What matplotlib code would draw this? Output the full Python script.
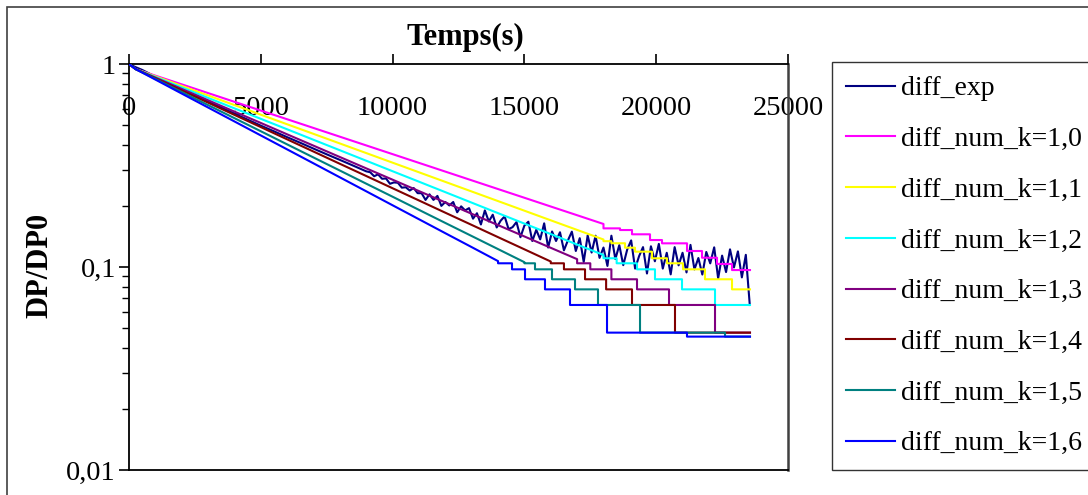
import numpy as np
import matplotlib
matplotlib.use('Agg')
import matplotlib.pyplot as plt
from matplotlib.patches import Rectangle
from matplotlib.ticker import LogLocator, NullFormatter

plt.rcParams['font.family'] = ['Liberation Serif', 'DejaVu Serif']

# grille de temps (s) de la partie lisse des courbes numeriques
t_smooth = [0, 250, 1000, 2000, 3000, 4000, 5000, 6000, 7000, 8000, 9000,
            10000, 11000, 12000, 13000, 14000, 15000, 16000, 17000, 18000]

# diff_exp : mesure (bruitee en fin d'essai)
t_exp = np.concatenate([[0, 250, 500], np.arange(1000, 9001, 500), np.arange(9150, 23551, 150)])
v_exp = [1.0, 0.965, 0.935, 0.866, 0.805, 0.748, 0.700, 0.655, 0.611, 0.570,
         0.532, 0.497, 0.466, 0.436, 0.409, 0.383, 0.359, 0.337, 0.316, 0.296,
         0.293, 0.280, 0.286, 0.272, 0.273, 0.257, 0.261, 0.260, 0.246, 0.247,
         0.238, 0.245, 0.231, 0.231, 0.214, 0.228, 0.214, 0.224, 0.200, 0.209,
         0.201, 0.209, 0.186, 0.199, 0.190, 0.195, 0.173, 0.184, 0.162, 0.190,
         0.1676, 0.1810, 0.1566, 0.1691, 0.1776, 0.1537, 0.1571, 0.1665, 0.1402, 0.1600,
         0.1671, 0.1343, 0.1524, 0.1368, 0.1641, 0.1247, 0.1496, 0.1343, 0.1483, 0.1208,
         0.1352, 0.1493, 0.1199, 0.1387, 0.1059, 0.1432, 0.1178, 0.1426, 0.1109, 0.1247,
         0.1012, 0.1426, 0.1094, 0.1282, 0.1021, 0.1219, 0.1352, 0.0982, 0.1130, 0.1253,
         0.0929, 0.1265, 0.1067, 0.1300, 0.0982, 0.1175, 0.0920, 0.1253, 0.1019, 0.1175,
         0.0940, 0.1285, 0.0973, 0.1107, 0.0918, 0.1186, 0.1042, 0.1250, 0.0879, 0.1138,
         0.0944, 0.1222, 0.0995, 0.1194, 0.0889, 0.1148, 0.0650]

# diff_num : partie lisse puis paliers (instants de changement, niveaux)
k10_smooth = [1.0, 0.944, 0.8764, 0.7939, 0.7191, 0.6513, 0.5899, 0.5344, 0.4840, 0.4384,
              0.3971, 0.3597, 0.3258, 0.2951, 0.2673, 0.2421, 0.2193, 0.1986, 0.1799, 0.1629]
k10_step_t = [18000, 18627, 19082, 19765, 20220, 21169, 21738, 22307, 22876, 23558]
k10_step_v = [0.155, 0.1521, 0.1449, 0.1358, 0.1308, 0.1199, 0.1111, 0.1035, 0.0966]

k11_smooth = [1.0, 0.944, 0.8700, 0.7802, 0.6998, 0.6276, 0.5629, 0.5047, 0.4527, 0.4060,
              0.3641, 0.3265, 0.2928, 0.2626, 0.2355, 0.2112, 0.1894, 0.1698, 0.1523, 0.1366]
k11_step_t = [18000, 18300, 18816, 19196, 19841, 20410, 21017, 21851, 22876, 23558]
k11_step_v = [0.1340, 0.1309, 0.1245, 0.1190, 0.1104, 0.1043, 0.0974, 0.0870, 0.0776]

k12_smooth = [1.0, 0.944, 0.8636, 0.7672, 0.6810, 0.6045, 0.5369, 0.4768, 0.4233, 0.3759,
              0.3338, 0.2963, 0.2632, 0.2337, 0.2075, 0.1842, 0.1636, 0.1453, 0.1290, 0.1146]
k12_step_t = [18000, 18500, 19272, 19954, 20979, 22231, 23558]
k12_step_v = [0.1104, 0.1043, 0.0974, 0.0870, 0.0776, 0.0650]

k13_smooth = [1.0, 0.944, 0.8572, 0.7539, 0.6629, 0.5826, 0.5124, 0.4503, 0.3960, 0.3481,
              0.3061, 0.2692, 0.2366, 0.2080, 0.1829, 0.1608, 0.1414, 0.1243, 0.1093]
k13_step_t = [17000, 17500, 18300, 19272, 20486, 22231, 23558]
k13_step_v = [0.1043, 0.0974, 0.0870, 0.0776, 0.0650, 0.0475]

k14_smooth = [1.0, 0.944, 0.8508, 0.7408, 0.6450, 0.5615, 0.4889, 0.4254, 0.3704, 0.3224,
              0.2807, 0.2443, 0.2127, 0.1851, 0.1612, 0.1403, 0.1222, 0.1064]
k14_step_t = [16000, 16500, 17300, 18100, 19082, 20713, 23558]
k14_step_v = [0.1043, 0.0974, 0.0870, 0.0776, 0.0650, 0.0475]

k15_smooth = [1.0, 0.944, 0.8445, 0.7281, 0.6275, 0.5410, 0.4664, 0.4018, 0.3463, 0.2986,
              0.2573, 0.2219, 0.1912, 0.1648, 0.1421, 0.1225, 0.1056]
k15_step_t = [15000, 15402, 16047, 16920, 17792, 19386, 22610, 23558]
k15_step_v = [0.1043, 0.0974, 0.0870, 0.0776, 0.0650, 0.0475, 0.0454]

k16_smooth = [1.0, 0.944, 0.8382, 0.7152, 0.6105, 0.5212, 0.4447, 0.3796, 0.3240, 0.2765,
              0.2360, 0.2014, 0.1719, 0.1467, 0.1253, 0.1069]
k16_step_t = [14000, 14530, 15023, 15781, 16730, 18134, 21168, 23558]
k16_step_v = [0.1043, 0.0974, 0.0870, 0.0776, 0.0650, 0.0475, 0.0454]

series = [
    ('diff_num_k=1,0', '#FF00FF', k10_smooth, k10_step_t, k10_step_v),
    ('diff_num_k=1,1', '#FFFF00', k11_smooth, k11_step_t, k11_step_v),
    ('diff_num_k=1,2', '#00FFFF', k12_smooth, k12_step_t, k12_step_v),
    ('diff_num_k=1,3', '#800080', k13_smooth, k13_step_t, k13_step_v),
    ('diff_num_k=1,4', '#800000', k14_smooth, k14_step_t, k14_step_v),
    ('diff_num_k=1,5', '#008080', k15_smooth, k15_step_t, k15_step_v),
    ('diff_num_k=1,6', '#0000FF', k16_smooth, k16_step_t, k16_step_v),
]


# partie lisse + paliers (steps-post) en une seule polyligne
def buildCurve(smooth, step_t, step_v):
    xs = list(t_smooth[:len(smooth)])
    ys = list(smooth)
    for i in range(len(step_v)):
        xs += [step_t[i], step_t[i + 1]]
        ys += [step_v[i], step_v[i]]
    return xs, ys


fig = plt.figure(figsize=(10.88, 4.95), dpi=100)
ax = fig.add_axes([129 / 1088, 1 - 470 / 495, (788 - 129) / 1088, (470 - 64) / 495])

handles = []
h, = ax.plot(t_exp, v_exp, color='#000080', lw=1.5, label='diff_exp', zorder=2)
handles.append(h)
for label, color, smooth, st, sv in series:
    xs, ys = buildCurve(smooth, st, sv)
    h, = ax.plot(xs, ys, color=color, lw=1.5, label=label, zorder=3)
    handles.append(h)

ax.set_yscale('log')
ax.set_ylim(0.01, 1)
ax.set_xlim(0, 25000)
ax.set_yticks([0.01, 0.1, 1], labels=['0,01', '0,1', '1'])
ax.yaxis.set_minor_locator(LogLocator(base=10, subs=np.arange(2, 10)))
ax.yaxis.set_minor_formatter(NullFormatter())
ax.tick_params(axis='y', which='major', direction='out', length=7.5, width=1.2, labelsize=20.5, pad=2)
ax.tick_params(axis='y', which='minor', direction='out', length=5, width=1.0)

ax.set_xticks(np.arange(0, 25001, 5000))
ax.tick_params(axis='x', which='major', top=True, bottom=False, labeltop=True, labelbottom=False,
               direction='out', length=7, width=1.2, labelsize=20.5, pad=-48)

ax.xaxis.set_label_position('top')
ax.set_xlabel('Temps(s)', fontsize=22, fontweight='bold')
ax.xaxis.set_label_coords((465 - 129) / 659, (470 - 37) / 406)
ax.xaxis.label.set_va('center')
ax.set_ylabel('DP/DP0', fontsize=22, fontweight='bold')
ax.yaxis.set_label_coords((40 - 129) / 659, (470 - 265) / 406)
ax.yaxis.label.set_va('center')

for side in ['left', 'top', 'bottom']:
    ax.spines[side].set_color('black')
    ax.spines[side].set_linewidth(1.3)
ax.spines['right'].set_color('#404040')
ax.spines['right'].set_linewidth(1.8)

leg = fig.legend(handles=handles, loc='upper left', bbox_to_anchor=(832 / 1088, 1 - 62 / 495),
                 bbox_transform=fig.transFigure, borderaxespad=0, frameon=True, fancybox=False,
                 edgecolor='black', fontsize=20, borderpad=0.5, handlelength=1.75,
                 handletextpad=0.25, labelspacing=0.91)
leg.get_frame().set_linewidth(1.0)

# cadre exterieur du graphique (bords droit et bas hors image)
fig.patches.append(Rectangle((7 / 1088, -0.5), 2.0, 1.5 - 7 / 495, transform=fig.transFigure,
                             fill=False, edgecolor='#404040', lw=1.2, zorder=0))

fig.savefig('out.png', dpi=100)
